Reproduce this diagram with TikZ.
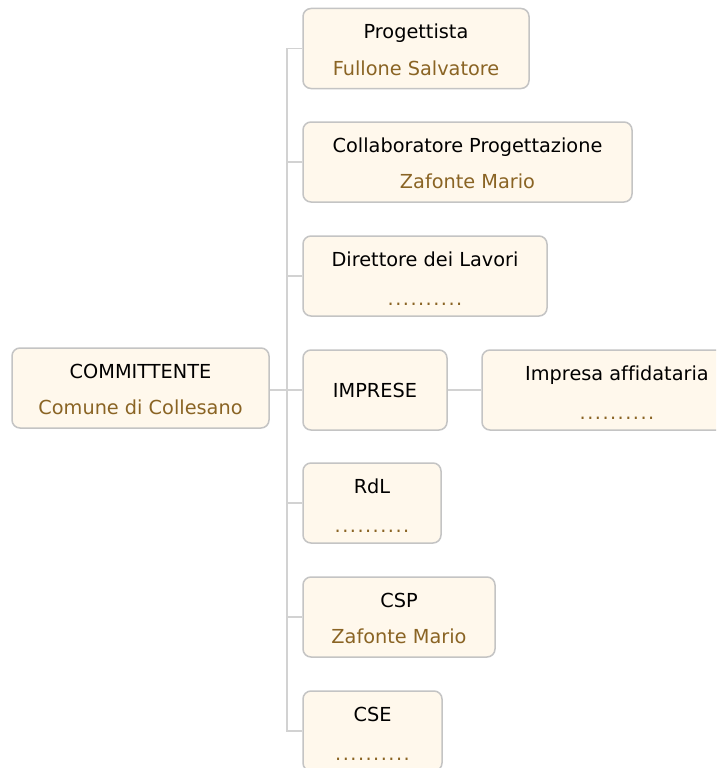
\documentclass[tikz,border=0pt]{standalone}
\usepackage{fontspec}
\setmainfont[Ligatures=NoCommon]{DejaVu Sans}
\definecolor{boxfill}{HTML}{FFF8EC}
\definecolor{boxline}{HTML}{C4C4C4}
\definecolor{connline}{HTML}{D2D2D2}
\definecolor{brn}{HTML}{8A6424}
\newcommand\dd{\makebox[7.6pt]{.}}
\newcommand\vstr{\rule[-4.5pt]{0pt}{26pt}}
\newcommand\dotrow{\vstr\raisebox{-3pt}[0pt][0pt]{\textcolor{brn}{\dd\dd\dd\dd\dd\dd\dd\dd\dd\dd}}}
\tikzset{
  box/.style={draw=boxline, line width=1.5pt, fill=boxfill, rounded corners=8pt,
    minimum height=80pt, inner sep=0pt, align=center,
    font=\fontsize{19.3}{36}\selectfont},
  conn/.style={draw=connline, line width=1.8pt}
}
\begin{document}
\begin{tikzpicture}[x=1pt,y=-1pt]
\clip (0,0) rectangle (716,768);
\fill[white] (0,0) rectangle (716,768);
\coordinate (spine) at (287,388);
\node[box, minimum width=257pt] (comm) at (140.5,388) {COMMITTENTE\vstr\\\textcolor{brn}{Comune di Collesano}\vstr};
\node[box, minimum width=226pt] (prog) at (416,48.5) {Progettista\vstr\\\textcolor{brn}{Fullone Salvatore}\vstr};
\node[box, minimum width=329pt] (coll) at (467.5,162) {Collaboratore Progettazione\vstr\\\textcolor{brn}{Zafonte Mario}\vstr};
\node[box, minimum width=244pt] (dir) at (425,276) {Direttore dei Lavori\vstr\\\dotrow};
\node[box, minimum width=144pt] (imp) at (375,390) {IMPRESE};
\node[box, minimum width=270pt] (aff) at (617,390) {Impresa affidataria\vstr\\\dotrow};
\node[box, minimum width=138pt] (rdl) at (372,503) {RdL\vstr\\\dotrow};
\node[box, minimum width=192pt] (csp) at (399,617) {CSP\vstr\\\textcolor{brn}{Zafonte Mario}\vstr};
\node[box, minimum width=139pt] (cse) at (372.5,731) {CSE\vstr\\\dotrow};
\draw[conn] (prog.west) -- (prog.west -| spine) -- (cse.west -| spine) -- (cse.west);
\draw[conn] ([yshift=-2pt]comm.east) -- ([yshift=-2pt]comm.east -| spine);
\foreach \n in {coll,dir,imp,rdl,csp} \draw[conn] (\n.west) -- (\n.west -| spine);
\draw[conn] (imp.east) -- (aff.west);
\end{tikzpicture}
\end{document}
